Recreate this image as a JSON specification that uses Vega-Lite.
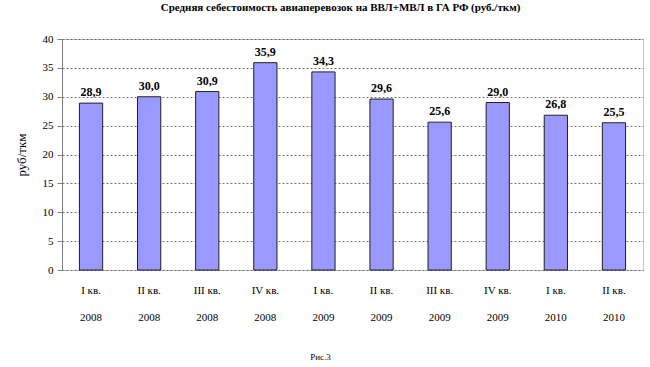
{
  "$schema": "https://vega.github.io/schema/vega-lite/v6.json",
  "autosize": "none",
  "width": 581,
  "height": 231,
  "padding": {"left": 62, "top": 39, "right": 7, "bottom": 97},
  "title": {
    "text": "Средняя себестоимость авиаперевозок на ВВЛ+МВЛ в ГА РФ (руб./ткм)",
    "font": "Liberation Serif",
    "fontSize": 11,
    "fontWeight": "bold",
    "color": "#000000",
    "anchor": "middle",
    "dx": -12,
    "offset": 20
  },
  "config": {
    "locale": {"number": {"decimal": ",", "thousands": " ", "grouping": [3], "currency": ["", ""]}},
    "view": {"stroke": "#c8c8c8", "strokeWidth": 1},
    "font": "Liberation Serif"
  },
  "data": {
    "values": [
      {"period": "I кв.|2008", "value": 28.9},
      {"period": "II кв.|2008", "value": 30.0},
      {"period": "III кв.|2008", "value": 30.9},
      {"period": "IV кв.|2008", "value": 35.9},
      {"period": "I кв.|2009", "value": 34.3},
      {"period": "II кв.|2009", "value": 29.6},
      {"period": "III кв.|2009", "value": 25.6},
      {"period": "IV кв.|2009", "value": 29.0},
      {"period": "I кв.|2010", "value": 26.8},
      {"period": "II кв.|2010", "value": 25.5}
    ]
  },
  "encoding": {
    "x": {
      "field": "period",
      "type": "nominal",
      "sort": null,
      "scale": {"paddingInner": 0.6, "paddingOuter": 0.3},
      "axis": {
        "title": "Рис.3",
        "titleFont": "Liberation Serif",
        "titleFontSize": 9,
        "titleFontWeight": "normal",
        "titleColor": "#000000",
        "titleX": 258,
        "titlePadding": 30,
        "labelExpr": "split(datum.value, '|')",
        "labelAngle": 0,
        "labelFont": "Liberation Serif",
        "labelFontSize": 11,
        "labelColor": "#000000",
        "labelLineHeight": 27,
        "labelPadding": 14,
        "ticks": false,
        "domain": false
      }
    },
    "y": {
      "field": "value",
      "type": "quantitative",
      "scale": {"domain": [0, 40]},
      "axis": {
        "title": "руб/ткм",
        "titleFont": "Liberation Serif",
        "titleFontSize": 13,
        "titleFontWeight": "normal",
        "titleColor": "#000000",
        "titlePadding": 14,
        "values": [0, 5, 10, 15, 20, 25, 30, 35, 40],
        "labelFont": "Liberation Serif",
        "labelFontSize": 11,
        "labelColor": "#000000",
        "labelPadding": 4,
        "tickSize": 5,
        "tickColor": "#808080",
        "domainColor": "#808080",
        "grid": true,
        "gridColor": "#505050",
        "gridDash": [2, 2],
        "gridWidth": 0.8
      }
    }
  },
  "layer": [
    {
      "mark": {"type": "bar", "fill": "#9999FF", "stroke": "#202020", "strokeWidth": 1}
    },
    {
      "mark": {"type": "text", "dy": -4, "baseline": "bottom", "font": "Liberation Serif", "fontSize": 12, "fontWeight": "bold", "fill": "#000000"},
      "encoding": {"text": {"field": "value", "type": "quantitative", "format": ".1f"}}
    }
  ]
}
